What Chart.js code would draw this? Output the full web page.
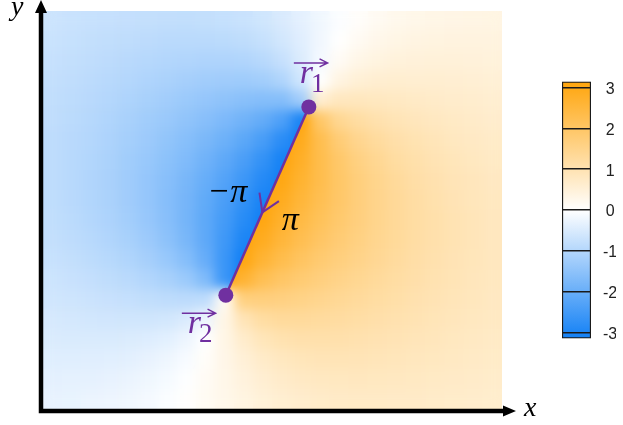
<!DOCTYPE html>
<html>
<head>
<meta charset="utf-8">
<title>Phase around a cut segment</title>
<script src="https://cdn.jsdelivr.net/npm/chart.js@4.4.1/dist/chart.umd.min.js"></script>
<style>
  html, body { margin: 0; padding: 0; background: #ffffff; }
  #wrap { position: relative; width: 623px; height: 425px; overflow: hidden; }
  canvas { position: absolute; }
  #field { left: 0; top: 0; }
  #scale { left: 555px; top: 60px; }
</style>
</head>
<body>
<div id="wrap">
  <canvas id="field" width="623" height="425"></canvas>
  <canvas id="scale" width="68" height="300"></canvas>
</div>
<script>
// phase in radians on a 24 x 20 grid, rows from top to bottom
const phase = [
  [-0.68,-0.71,-0.74,-0.76,-0.78,-0.80,-0.81,-0.82,-0.80,-0.77,-0.71,-0.63,-0.51,-0.36,-0.20,-0.05,0.07,0.17,0.24,0.29,0.32,0.34,0.35,0.36],
  [-0.72,-0.75,-0.79,-0.82,-0.85,-0.88,-0.91,-0.92,-0.92,-0.90,-0.85,-0.75,-0.60,-0.41,-0.19,0.01,0.16,0.27,0.33,0.38,0.40,0.41,0.42,0.42],
  [-0.76,-0.80,-0.84,-0.88,-0.93,-0.97,-1.01,-1.04,-1.06,-1.06,-1.03,-0.94,-0.76,-0.48,-0.14,0.13,0.31,0.40,0.46,0.48,0.49,0.49,0.48,0.47],
  [-0.79,-0.84,-0.89,-0.94,-1.00,-1.06,-1.12,-1.18,-1.23,-1.26,-1.27,-1.22,-1.05,-0.63,-0.01,0.37,0.53,0.59,0.61,0.60,0.59,0.58,0.55,0.53],
  [-0.82,-0.87,-0.93,-1.00,-1.07,-1.15,-1.23,-1.32,-1.40,-1.49,-1.56,-1.62,-1.62,-1.25,0.60,0.83,0.84,0.82,0.78,0.74,0.70,0.66,0.63,0.60],
  [-0.84,-0.90,-0.97,-1.05,-1.14,-1.24,-1.34,-1.46,-1.58,-1.72,-1.88,-2.06,-2.34,-3.02,1.95,1.41,1.19,1.05,0.95,0.87,0.80,0.75,0.70,0.65],
  [-0.86,-0.93,-1.00,-1.09,-1.19,-1.30,-1.44,-1.59,-1.75,-1.94,-2.16,-2.43,-2.81,2.92,2.27,1.77,1.45,1.25,1.10,0.99,0.90,0.82,0.76,0.71],
  [-0.86,-0.94,-1.02,-1.12,-1.24,-1.37,-1.52,-1.69,-1.90,-2.12,-2.39,-2.70,-3.07,2.78,2.32,1.92,1.61,1.39,1.20,1.08,0.97,0.89,0.81,0.75],
  [-0.86,-0.94,-1.03,-1.13,-1.26,-1.40,-1.58,-1.78,-2.01,-2.27,-2.57,-2.89,3.04,2.67,2.30,1.97,1.69,1.47,1.29,1.14,1.03,0.93,0.86,0.79],
  [-0.85,-0.93,-1.02,-1.12,-1.25,-1.41,-1.60,-1.82,-2.09,-2.39,-2.72,-3.05,2.89,2.56,2.24,1.95,1.70,1.49,1.32,1.18,1.06,0.96,0.88,0.81],
  [-0.82,-0.90,-0.99,-1.09,-1.22,-1.38,-1.58,-1.83,-2.13,-2.48,-2.85,3.07,2.73,2.42,2.14,1.89,1.67,1.48,1.32,1.19,1.08,0.98,0.90,0.83],
  [-0.79,-0.86,-0.94,-1.03,-1.15,-1.30,-1.51,-1.77,-2.12,-2.55,-3.00,2.88,2.55,2.26,2.01,1.80,1.61,1.44,1.30,1.18,1.07,0.98,0.90,0.83],
  [-0.74,-0.80,-0.87,-0.95,-1.05,-1.18,-1.36,-1.62,-2.02,-2.60,3.08,2.63,2.31,2.06,1.85,1.68,1.52,1.38,1.25,1.14,1.05,0.96,0.89,0.83],
  [-0.68,-0.73,-0.78,-0.85,-0.92,-1.02,-1.14,-1.32,-1.68,-2.60,2.64,2.22,1.99,1.82,1.67,1.53,1.41,1.29,1.19,1.10,1.01,0.94,0.87,0.81],
  [-0.62,-0.65,-0.69,-0.73,-0.77,-0.82,-0.86,-0.89,-0.86,0.13,1.65,1.68,1.63,1.55,1.46,1.37,1.28,1.20,1.12,1.04,0.97,0.91,0.85,0.79],
  [-0.55,-0.57,-0.59,-0.61,-0.62,-0.62,-0.59,-0.49,-0.24,0.32,0.93,1.20,1.29,1.29,1.26,1.22,1.16,1.10,1.04,0.98,0.92,0.86,0.81,0.77],
  [-0.49,-0.50,-0.50,-0.50,-0.48,-0.45,-0.38,-0.24,-0.01,0.32,0.66,0.89,1.02,1.07,1.08,1.07,1.04,1.00,0.96,0.91,0.86,0.82,0.78,0.74],
  [-0.42,-0.42,-0.41,-0.40,-0.37,-0.31,-0.23,-0.10,0.08,0.30,0.52,0.70,0.82,0.89,0.93,0.94,0.93,0.90,0.88,0.84,0.81,0.77,0.74,0.71],
  [-0.36,-0.35,-0.34,-0.31,-0.27,-0.21,-0.13,-0.02,0.13,0.28,0.44,0.58,0.69,0.76,0.80,0.82,0.83,0.82,0.80,0.78,0.75,0.73,0.70,0.67],
  [-0.31,-0.30,-0.27,-0.24,-0.20,-0.14,-0.06,0.03,0.15,0.27,0.39,0.50,0.59,0.65,0.70,0.73,0.74,0.74,0.73,0.72,0.70,0.68,0.66,0.64]
];

// segment end points and axis ranges
const r1 = { x: 6.95, y: 7.59 };
const r2 = { x: 4.78, y: 2.86 };
const xMax = 12, yMax = 10;
const cbTicks = [-3, -2, -1, 0, 1, 2, 3];

const purple = '#7030a0';
const blue = [18, 128, 245];
const orange = [255, 165, 12];

function colorFor(v) {
  const t = Math.min(Math.abs(v) / Math.PI, 1);
  const end = v < 0 ? blue : orange;
  const c = end.map(e => Math.round(255 + (e - 255) * t));
  return 'rgb(' + c.join(',') + ')';
}

// continue the phase across the cut, seen from one side of it
function branch(v, side) {
  if (side > 0 && v < -Math.PI / 2) return v + 2 * Math.PI;
  if (side < 0 && v > Math.PI / 2) return v - 2 * Math.PI;
  return v;
}

// one floating bar per grid cell
const cols = phase[0].length, rows = phase.length;
const cw = xMax / cols, ch = yMax / rows;
const cells = [];
phase.forEach((row, j) => row.forEach((v, i) => {
  cells.push({ x: (i + 0.5) * cw, y: [yMax - (j + 1) * ch, yMax - j * ch], v: v });
}));

function pix(chart, p) {
  return { x: chart.scales.x.getPixelForValue(p.x), y: chart.scales.y.getPixelForValue(p.y) };
}

// each side of the cut is drawn from its own branch, then softened
const smooth = {
  id: 'smooth',
  beforeDraw(chart) { chart.$buf = {}; },
  afterDatasetDraw(chart, args) {
    const side = chart.data.datasets[args.index].side;
    if (!side) return;
    const a = chart.chartArea;
    const w = Math.round(a.right - a.left), h = Math.round(a.bottom - a.top);
    const buf = document.createElement('canvas');
    buf.width = w;
    buf.height = h;
    buf.getContext('2d').drawImage(chart.canvas, a.left, a.top, w, h, 0, 0, w, h);
    chart.$buf[side] = buf;
    if (!chart.$buf[1] || !chart.$buf[-1]) return;

    const ctx = chart.ctx;
    const p1 = pix(chart, r1), p2 = pix(chart, r2);
    const len = Math.hypot(p1.x - p2.x, p1.y - p2.y);
    const d = { x: (p1.x - p2.x) / len, y: (p1.y - p2.y) / len };
    const n = { x: -d.y, y: d.x };
    const K = 2000;
    [1, -1].forEach(s => {
      ctx.save();
      ctx.beginPath();
      ctx.rect(a.left, a.top, w, h);
      ctx.clip();
      ctx.beginPath();
      ctx.moveTo(p2.x - d.x * K, p2.y - d.y * K);
      ctx.lineTo(p1.x + d.x * K, p1.y + d.y * K);
      ctx.lineTo(p1.x + d.x * K + s * n.x * K, p1.y + d.y * K + s * n.y * K);
      ctx.lineTo(p2.x - d.x * K + s * n.x * K, p2.y - d.y * K + s * n.y * K);
      ctx.closePath();
      ctx.clip();
      ctx.filter = 'blur(6px)';
      ctx.drawImage(chart.$buf[s], a.left, a.top);
      ctx.restore();
    });
  }
};

function vecLabel(ctx, left, base, sub) {
  ctx.fillStyle = purple;
  ctx.strokeStyle = purple;
  ctx.textAlign = 'left';
  ctx.font = 'italic 34px "Liberation Serif"';
  ctx.fillText('r', left, base);
  const rw = ctx.measureText('r').width;
  ctx.font = '27px "Liberation Serif"';
  ctx.fillText(sub, left + rw - 2, base + 9);
  const end = left + rw - 2 + ctx.measureText(sub).width + 3;
  const ay = base - 20;
  ctx.lineWidth = 1.5;
  ctx.beginPath();
  ctx.moveTo(left - 6, ay);
  ctx.lineTo(end, ay);
  ctx.moveTo(end - 8, ay - 4);
  ctx.lineTo(end, ay);
  ctx.lineTo(end - 8, ay + 4);
  ctx.stroke();
}

const decor = {
  id: 'decor',
  afterDatasetsDraw(chart) {
    const { ctx, chartArea: a } = chart;
    const p1 = pix(chart, r1), p2 = pix(chart, r2);
    ctx.save();

    // axes with arrow heads
    const ax = a.left - 2, ay = a.bottom + 2;
    ctx.strokeStyle = '#000';
    ctx.fillStyle = '#000';
    ctx.lineWidth = 4.5;
    ctx.beginPath();
    ctx.moveTo(ax, ay + 2.25);
    ctx.lineTo(ax, 12);
    ctx.moveTo(ax - 2.25, ay);
    ctx.lineTo(a.right + 2, ay);
    ctx.stroke();
    ctx.beginPath();
    ctx.moveTo(ax, 0);
    ctx.lineTo(ax - 6, 13);
    ctx.lineTo(ax + 6, 13);
    ctx.closePath();
    ctx.moveTo(a.right + 14, ay);
    ctx.lineTo(a.right + 1, ay - 5.5);
    ctx.lineTo(a.right + 1, ay + 5.5);
    ctx.closePath();
    ctx.fill();

    ctx.font = 'italic 28px "Liberation Serif"';
    ctx.textAlign = 'left';
    ctx.fillText('x', a.right + 22, ay + 5);
    ctx.fillText('y', 11, 15);

    // direction mark on the segment
    const t = 0.44;
    const tip = { x: p2.x + (p1.x - p2.x) * t, y: p2.y + (p1.y - p2.y) * t };
    const ang = Math.atan2(p1.y - p2.y, p1.x - p2.x);
    ctx.strokeStyle = purple;
    ctx.lineWidth = 2;
    ctx.beginPath();
    [-0.56, 0.56].forEach(d => {
      ctx.moveTo(tip.x + 20 * Math.cos(ang + d), tip.y + 20 * Math.sin(ang + d));
      ctx.lineTo(tip.x, tip.y);
    });
    ctx.stroke();

    ctx.fillStyle = '#000';
    ctx.font = 'italic 34px "Liberation Serif"';
    ctx.textAlign = 'center';
    ctx.fillText('\u2212\u03c0', tip.x - 35, tip.y - 10);
    ctx.fillText('\u03c0', tip.x + 28, tip.y + 18);

    vecLabel(ctx, p1.x - 9, p1.y - 24, '1');
    vecLabel(ctx, p2.x - 38, p2.y + 38, '2');
    ctx.restore();
  }
};

new Chart(document.getElementById('field'), {
  type: 'bar',
  data: {
    datasets: [
      {
        type: 'scatter',
        data: [r1, r2],
        pointRadius: 7.5,
        pointBackgroundColor: purple,
        pointBorderWidth: 0,
        order: 1
      },
      {
        type: 'line',
        data: [r2, r1],
        borderColor: purple,
        borderWidth: 2.5,
        pointRadius: 0,
        order: 2
      },
      {
        data: cells.slice(),
        side: 1,
        backgroundColor: cells.map(c => colorFor(branch(c.v, 1))),
        borderWidth: 0,
        grouped: false,
        barPercentage: 1,
        categoryPercentage: 1,
        order: 3
      },
      {
        data: cells.slice(),
        side: -1,
        backgroundColor: cells.map(c => colorFor(branch(c.v, -1))),
        borderWidth: 0,
        grouped: false,
        barPercentage: 1,
        categoryPercentage: 1,
        order: 4
      }
    ]
  },
  options: {
    responsive: false,
    animation: false,
    events: [],
    layout: { padding: { left: 43, top: 11, right: 121, bottom: 16 } },
    plugins: { legend: { display: false }, tooltip: { enabled: false } },
    scales: {
      x: { type: 'linear', min: 0, max: xMax, offset: false, display: false, ticks: { stepSize: 2 } },
      y: { min: 0, max: yMax, offset: false, display: false }
    }
  },
  plugins: [smooth, decor]
});

// colour bar
new Chart(document.getElementById('scale'), {
  type: 'bar',
  data: {
    labels: [''],
    datasets: [{
      data: [[-Math.PI, Math.PI]],
      backgroundColor: (c) => {
        const chart = c.chart;
        if (!chart.chartArea) return null;
        const ys = chart.scales.y;
        const g = chart.ctx.createLinearGradient(0, ys.getPixelForValue(-Math.PI), 0, ys.getPixelForValue(Math.PI));
        g.addColorStop(0, colorFor(-Math.PI));
        g.addColorStop(0.5, colorFor(0));
        g.addColorStop(1, colorFor(Math.PI));
        return g;
      },
      borderColor: '#1a1a1a',
      borderWidth: 1.5,
      borderSkipped: false,
      barPercentage: 1,
      categoryPercentage: 1
    }]
  },
  options: {
    responsive: false,
    animation: false,
    events: [],
    layout: { padding: { left: 7, top: 18, right: 7, bottom: 16 } },
    plugins: { legend: { display: false }, tooltip: { enabled: false } },
    scales: {
      x: { display: false },
      y: {
        position: 'right',
        min: -Math.PI,
        max: Math.PI,
        afterBuildTicks: s => { s.ticks = cbTicks.map(v => ({ value: v })); },
        afterFit: s => { s.width = 25; },
        grid: { color: '#1a1a1a', lineWidth: 1.5, drawTicks: false, z: 1 },
        border: { display: false },
        ticks: {
          crossAlign: 'center',
          padding: 12,
          labelOffset: 2,
          color: '#222',
          font: { family: '"Liberation Sans", Arial', size: 16 }
        }
      }
    }
  }
});
</script>
</body>
</html>
